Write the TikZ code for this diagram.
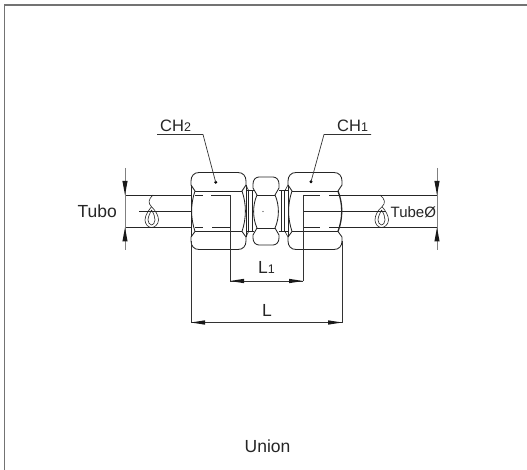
\documentclass[tikz,border=0pt]{standalone}
\usepackage{fontspec}
\setmainfont{Liberation Sans}
\usetikzlibrary{arrows.meta}
\newcommand{\subdig}[1]{{\fontsize{12.5}{12}\selectfont #1}}
\tikzset{
  part/.style={line width=0.85pt,draw=black!85,line join=round},
  thin part/.style={line width=0.6pt,draw=black!85},
  heavy/.style={line width=1.3pt,draw=black!85},
  dim/.style={line width=0.7pt,draw=black!80},
  greydim/.style={line width=1pt,draw=black!50},
  tip/.style={fill=black!90,draw=none},
  lab/.style={inner sep=0pt,font=\fontsize{17.5}{17.5}\selectfont,text=black!85},
  dotmark/.style={circle,fill=black,inner sep=0pt,minimum size=3.2pt},
  frameline/.style={line width=1.5pt,draw=black!55}
}
\newcommand{\arrh}[3]{\fill[tip] (#1,#2) -- ++(#3*14,-2.2) -- ++(0,4.4) -- cycle;}
\newcommand{\arrv}[3]{\fill[tip] (#1,#2) -- ++(-2.6,#3*14) -- ++(5.2,0) -- cycle;}
\begin{document}
\begin{tikzpicture}[x=1pt,y=-1pt]
\useasboundingbox (0,0) rectangle (527,470);
\fill[white] (0,0) rectangle (527,470);
\draw[frameline] (4.5,470) -- (4.5,5) -- (527,5);
% tubes
\draw[part] (125,195) -- (191,195) (125,227.5) -- (191,227.5);
\draw[part] (342,195) -- (437,195) (342,227.5) -- (437,227.5);
\draw[thin part] (139,211.5) -- (222,211.5);
\draw[thin part] (304,211.5) -- (386,211.5);
% left break
\draw[thin part] (153,195) .. controls (148,200) and (148,203) .. (151.5,206.7)
  .. controls (156,211) and (158.5,216) .. (158.5,220) .. controls (158.5,225) and (154,227.5) .. (151.5,227.5)
  .. controls (148,227.5) and (145,224) .. (145,220) .. controls (145,215) and (149,210) .. (151.5,206.7);
\draw[thin part] (151.5,210) .. controls (154,214) and (155,217) .. (155,220) .. controls (155,223) and (153,225) .. (151.5,225)
  .. controls (149.5,225) and (148,222) .. (148,220) .. controls (148,217) and (150,213) .. (151.5,210);
% right break
\draw[thin part] (380,195) .. controls (385,199) and (386,203) .. (382,206.7)
  .. controls (386,211) and (388.5,216) .. (388.5,220) .. controls (388.5,225) and (384,227.5) .. (381.5,227.5)
  .. controls (378,227.5) and (375,224) .. (375,220) .. controls (375,215) and (378,210) .. (382,206.7);
\draw[thin part] (381.5,210) .. controls (384,214) and (385,217) .. (385,220) .. controls (385,223) and (383,225) .. (381.5,225)
  .. controls (379.5,225) and (378,222) .. (378,220) .. controls (378,217) and (380,213) .. (381.5,210);
% left nut
\fill[white] (192,173) rectangle (245,249);
\draw[part] (195,191) -- (191,185) -- (191,181)
  .. controls (191,176) and (194,172.5) .. (199,172.5) -- (238,172.5)
  .. controls (243,172.5) and (246,176) .. (246,181) -- (246,185) -- (242,191);
\draw[part] (195,231.5) -- (191,237) -- (191,241)
  .. controls (191,246) and (194,249.5) .. (199,249.5) -- (238,249.5)
  .. controls (243,249.5) and (246,246) .. (246,241) -- (246,237) -- (242,231.5);
\draw[part] (195,191) -- (242,191);
\draw[heavy] (195,231.5) -- (242,231.5);
\draw[part] (195,191) .. controls (190.5,204) and (190.5,218) .. (195,231.5);
\draw[part] (242,191) .. controls (246.5,204) and (246.5,218) .. (242,231.5);
\draw[thin part] (246,185) -- (248.3,190) (246,237) -- (248.3,232);
\draw[thin part] (191,185) -- (191,237);
% left nut inner (tube hidden)
\draw[thin part] (195,195) -- (203,195) (211,195) -- (230,195);
\draw[thin part] (195,227.5) -- (203,227.5) (212,227.5) -- (230,227.5);
% left neck
\draw[thin part] (246,190.5) -- (253.5,190.5) (246,231.5) -- (253.5,231.5);
\draw[thin part] (246,185) -- (246,237);
\draw[thin part] (248.3,190.5) -- (248.3,231.5) (252.7,190.5) -- (252.7,231.5);
% centre hex
\draw[part] (257,195) -- (253,188) -- (253,184)
  .. controls (253,180) and (255.5,177) .. (259,177) -- (273,177)
  .. controls (276.5,177) and (279,180) .. (279,184) -- (279,188) -- (275,195);
\draw[part] (257,228) -- (253,235) -- (253,238)
  .. controls (253,242) and (255.5,245) .. (259,245) -- (273,245)
  .. controls (276.5,245) and (279,242) .. (279,238) -- (279,235) -- (275,228);
\draw[part] (257,195) -- (275,195) (257,228) -- (275,228);
\draw[part] (257,195) .. controls (252.5,205) and (252.5,218) .. (257,228);
\draw[part] (275,195) .. controls (279.5,205) and (279.5,218) .. (275,228);
\fill[black!80] (263,211.5) circle (0.7);
% right neck
\draw[thin part] (279,190.5) -- (288,190.5) (279,231.5) -- (288,231.5);
\draw[thin part] (281,190.5) -- (281,231.5) (284.5,190.5) -- (284.5,231.5);
\draw[thin part] (288,185) -- (285,190.5) (288,237) -- (285,231.5);
\draw[thin part] (288,185) -- (288,237);
% right nut
\draw[part] (292,191) -- (288,185) -- (288,181)
  .. controls (288,176) and (291,172.5) .. (296,172.5) -- (334,172.5)
  .. controls (339,172.5) and (342,176) .. (342,181) -- (342,185) -- (338,191);
\draw[part] (292,231.5) -- (288,237) -- (288,241)
  .. controls (288,246) and (291,249.5) .. (296,249.5) -- (334,249.5)
  .. controls (339,249.5) and (342,246) .. (342,241) -- (342,237) -- (338,231.5);
\draw[part] (292,191) -- (338,191) (292,231.5) -- (338,231.5);
\draw[part] (292,191) .. controls (287.5,204) and (287.5,218) .. (292,231.5);
\draw[heavy] (338,191) .. controls (343,204) and (343,218) .. (338,231.5);
\draw[thin part] (303,195) -- (320,195) (329,195) -- (342,195);
\draw[thin part] (303,227.5) -- (320,227.5) (329,227.5) -- (342,227.5);
% dimension lines
\coordinate (la) at (191,322.5);
\coordinate (lb) at (342,322.5);
\coordinate (lc) at (230,281);
\coordinate (ld) at (303,281);
\draw[dim] (191,241) -- (la) (342,241) -- (lb);
\draw[dim] (230,195) -- (lc) (303,195) -- (ld);
\draw[dim] (la) -- (lb) (lc) -- (ld);
\arrh{191}{322.5}{1}\arrh{342}{322.5}{-1}\arrh{230}{281}{1}\arrh{303}{281}{-1}
\draw[greydim] (125,168) -- (125,250) (437,168) -- (437,250);
\arrv{125}{195}{-1}\arrv{125}{227.5}{1}\arrv{437}{195}{-1}\arrv{437}{227.5}{1}
% leaders
\node[dotmark] (d2) at (215.7,182.3) {};
\node[dotmark] (d1) at (311,181.7) {};
\coordinate (u2) at (203,134.5);
\coordinate (u1) at (324,134.5);
\draw[dim] (157,134.5) -- (u2) -- (d2.center);
\draw[dim] (371,134.5) -- (u1) -- (d1.center);
% labels
\node[lab,anchor=base west,font=\fontsize{16.5}{16.5}\selectfont] (ch2) at (160,131.5) {CH\subdig{2}};
\node[lab,anchor=base west,font=\fontsize{16.5}{16.5}\selectfont] (ch1) at (337,131.5) {CH\subdig{1}};
\node[lab,anchor=base west] (tubo) at (77.5,218) {Tubo};
\node[lab,anchor=base west,font=\fontsize{15}{15}\selectfont] (tube) at (390.5,218) {TubeØ};
\node[lab,anchor=base west] (l1) at (258,273.5) {L\subdig{1}};
\node[lab,anchor=base west] (l) at (262,316) {L};
\node[lab,anchor=base] (union) at (267.5,452) {Union};
\end{tikzpicture}
\end{document}
